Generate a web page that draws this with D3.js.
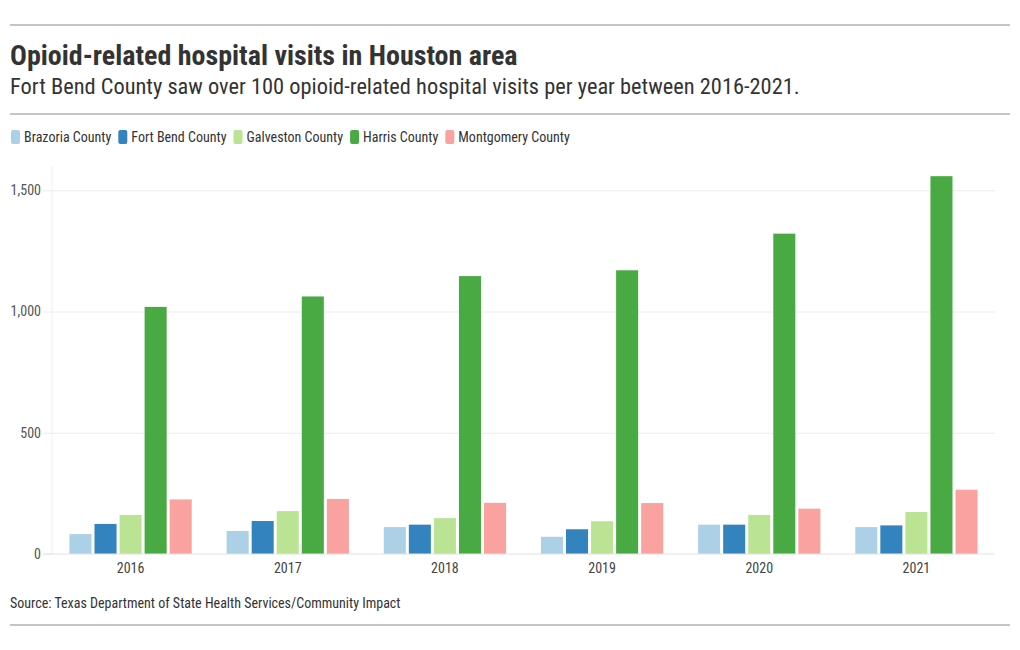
<!DOCTYPE html>
<html><head><meta charset="utf-8">
<script src="https://cdn.jsdelivr.net/npm/d3@7"></script>
<style>
body{margin:0;background:#fff;}
svg{display:block;font-family:"Roboto Condensed","Liberation Sans Narrow","Arial Narrow",Roboto,sans-serif;}
</style></head>
<body><svg id="c" width="1020" height="650"></svg>
<script>
const years = ["2016","2017","2018","2019","2020","2021"];
const seriesNames = ["Brazoria County","Fort Bend County","Galveston County","Harris County","Montgomery County"];
const brazoria   = [82, 95, 111, 71, 121, 111];
const fortBend   = [124, 136, 121, 102, 121, 118];
const galveston  = [161, 177, 148, 135, 161, 173];
const harris     = [1019, 1062, 1146, 1170, 1321, 1558];
const montgomery = [225, 227, 211, 210, 187, 265];
const yTicks = [0, 500, 1000, 1500];
const colors = ["#acd1e6","#3383bf","#bbe394","#49a942","#faa2a0"];

const seriesValues = [brazoria, fortBend, galveston, harris, montgomery];
const svg = d3.select("#c");

// rules
[25, 114, 625].forEach(yy => svg.append("line").attr("x1",10).attr("x2",1010).attr("y1",yy).attr("y2",yy)
  .attr("stroke","#8a8a8a").attr("stroke-width",1));

svg.append("text").attr("x",10).attr("y",65).attr("font-size",28).attr("font-weight",700)
  .attr("fill","#333").text("Opioid-related hospital visits in Houston area");
svg.append("text").attr("x",10).attr("y",94).attr("font-size",22.4).attr("fill","#333")
  .text("Fort Bend County saw over 100 opioid-related hospital visits per year between 2016-2021.");

// legend
const lg = svg.append("g");
let lx = 11;
seriesNames.forEach((n,i) => {
  const g = lg.append("g").attr("transform",`translate(${lx},0)`);
  g.append("rect").attr("x",0).attr("y",130).attr("width",9).attr("height",14).attr("rx",2).attr("fill",colors[i]);
  const t = g.append("text").attr("x",13).attr("y",142).attr("font-size",14).attr("fill","#333").text(n);
  lx += 13 + t.node().getComputedTextLength() + 7;
});

const mLeft = 52, mRight = 995, mTop = 166, mBottom = 554;
const x0 = d3.scaleBand().domain(years).range([mLeft,mRight]).paddingInner(0.222).paddingOuter(0.111);
const x1 = d3.scaleBand().domain(seriesNames).range([0,x0.bandwidth()]).paddingInner(0.12);
const y = d3.scaleLinear().domain([0,1600]).range([mBottom,mTop]);

// grid
const grid = svg.append("g").attr("transform",`translate(${mLeft},0)`)
  .call(d3.axisLeft(y).tickValues(yTicks).tickSize(-(mRight-mLeft)).tickFormat(""));
grid.select(".domain").remove();
grid.selectAll("line").attr("stroke","#ececec");
grid.selectAll(".tick").filter(d=>d===0).remove();
svg.append("line").attr("x1",mLeft).attr("x2",mLeft).attr("y1",mTop).attr("y2",mBottom).attr("stroke","#f0f0f0");

// y axis labels
const ya = svg.append("g").attr("transform",`translate(${mLeft},0)`)
  .call(d3.axisLeft(y).tickValues(yTicks).tickSize(9).tickPadding(2).tickFormat(d3.format(",")));
ya.attr("font-family",null).attr("font-size",14);
ya.select(".domain").remove();
ya.selectAll("line").attr("stroke","#ececec");
ya.selectAll("text").attr("fill","#555");

// bars
years.forEach((yr,j) => {
  seriesNames.forEach((s,i) => {
    svg.append("rect").attr("x",x0(yr)+x1(s)).attr("width",x1.bandwidth())
      .attr("y",y(seriesValues[i][j])).attr("height",y(0)-y(seriesValues[i][j]))
      .attr("fill",colors[i]);
  });
});

// x axis
const xa = svg.append("g").attr("transform",`translate(0,${mBottom})`)
  .call(d3.axisBottom(x0).tickSize(0).tickPadding(9));
xa.attr("font-family",null).attr("font-size",14);
xa.select(".domain").attr("stroke","#e2e2e2").attr("d",`M${mLeft-9},0H${mRight}`);
xa.selectAll("text").attr("fill","#444");

svg.append("text").attr("x",10).attr("y",608).attr("font-size",14).attr("fill","#333")
  .text("Source: Texas Department of State Health Services/Community Impact");
</script></body></html>
